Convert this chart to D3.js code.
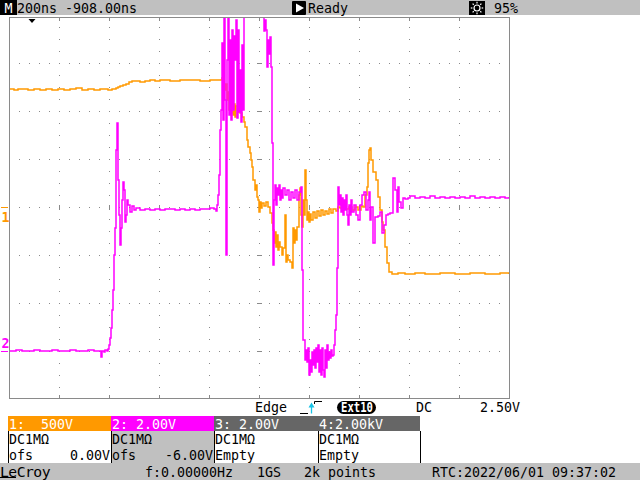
<!DOCTYPE html>
<html><head><meta charset="utf-8">
<script src="https://cdn.jsdelivr.net/npm/d3@7"></script>
<style>
body{margin:0;background:#fff}
svg{display:block}
text{font-family:"DejaVu Sans Mono",monospace;font-size:13.3px;white-space:pre}
</style>
</head><body>
<svg id="c" width="640" height="480"></svg>
<script>
// ---- data (time in ns relative to trigger, volts) ----
const ch1Time = [-88,-72,-56,-32,-16,8,32,56,80,104,128,152,176,200,224,248,272,296,304,320,336,344,352,364,376,388,400,416,432,452,472,492,512,552,592,632,672,712,752,760,768,772,776,780,784,788,792,796,800,804,808,812,816,824,832,840,848,852,860,864,872,876,880,884,892,896,900,904,908,912,916,920,928,936,944,952,960,964,968,972,976,980,984,988,992,1000,1004,1012,1016,1020,1024,1032,1040,1044,1048,1052,1056,1060,1068,1072,1076,1080,1084,1088,1092,1096,1100,1104,1108,1112,1116,1124,1132,1140,1148,1156,1164,1172,1180,1188,1196,1204,1216,1224,1232,1244,1256,1268,1280,1292,1304,1316,1324,1332,1340,1344,1348,1352,1356,1364,1376,1384,1392,1400,1404,1412,1420,1428,1440,1464,1492,1532,1572,1632,1692,1752,1812,1872,1908];
const ch1Volts = [1229,1219,1229,1229,1219,1229,1219,1229,1219,1229,1219,1229,1240,1219,1229,1219,1229,1229,1219,1229,1240,1250,1260,1271,1281,1302,1313,1313,1302,1313,1323,1313,1323,1313,1323,1323,1313,1323,1323,1344,1281,1219,1281,1115,1198,1010,1167,979,1135,958,1073,938,1052,990,979,938,885,833,698,625,563,490,417,281,177,229,104,73,-52,52,-10,42,10,52,0,-63,-167,-240,-375,-260,-417,-292,-448,-365,-417,-500,-427,-83,-573,-500,-552,-573,-635,-219,-375,-240,-344,-208,125,198,-83,-208,73,-83,385,73,-135,-52,-156,-73,-135,-52,-115,-42,-94,-31,-83,-42,-73,-21,-63,-21,-42,0,-10,10,-21,0,-31,0,-31,10,0,125,208,458,594,615,490,365,281,104,-31,-156,-240,-417,-583,-677,-698,-688,-698,-688,-698,-688,-698,-688,-698,-688,-698];

const ch2Time = [-88,-64,-40,-16,8,32,56,80,104,128,152,176,200,224,248,272,276,280,288,292,300,304,308,312,316,320,324,328,332,336,340,344,348,352,356,360,364,368,372,376,380,384,392,400,408,416,432,452,472,492,512,532,552,572,592,612,632,652,672,692,712,728,736,740,744,748,752,756,760,764,768,772,776,780,784,788,792,796,800,804,808,812,816,820,824,828,832,836,840,844,848,856,872,892,912,924,928,932,936,940,944,948,952,956,960,964,968,972,976,980,984,988,992,996,1000,1004,1012,1020,1028,1036,1044,1052,1060,1068,1076,1080,1084,1092,1096,1100,1104,1108,1112,1116,1120,1124,1128,1132,1136,1140,1144,1148,1152,1156,1160,1164,1168,1172,1176,1180,1184,1188,1192,1196,1200,1204,1208,1212,1216,1220,1224,1228,1232,1236,1240,1244,1248,1252,1256,1260,1264,1268,1272,1276,1280,1288,1296,1304,1312,1320,1328,1336,1344,1348,1352,1356,1364,1372,1384,1392,1400,1408,1416,1424,1432,1440,1444,1452,1460,1464,1468,1476,1484,1492,1504,1512,1532,1552,1572,1592,1612,1632,1652,1672,1692,1712,1732,1752,1772,1792,1812,1832,1852,1872,1892,1908];
const ch2Volts = [0,0.04,0,0,0.04,0,0,0.04,0,0,0.04,0,0,0.04,0,0,-0.25,0,-0.04,0.04,0,0.08,0.25,0.54,0.96,1.71,2.54,4.0,5.13,8.38,9.5,7.13,5.67,4.42,5.13,6.29,7.04,6.71,5.38,5.67,6.29,6.08,5.79,6.04,5.88,5.96,5.88,5.92,5.88,5.92,5.88,5.92,5.92,5.88,5.92,5.88,5.92,5.88,5.92,5.92,5.96,5.92,5.83,6.08,6.5,7.33,9.21,10.04,12.83,9.63,14.13,10.46,4.0,12.13,14.21,9.83,12.96,9.63,13.38,10.04,13.13,12.13,13.79,9.71,13.38,9.96,11.71,9.54,12.75,10.04,14.21,14.42,14.42,14.42,14.42,14.21,13.33,13.79,13.38,11.83,12.96,12.38,13.08,11.83,8.67,3.58,6.29,6.92,6.08,6.79,6.5,6.92,6.29,6.71,6.38,6.79,6.5,6.71,6.29,6.63,6.38,6.71,6.29,6.63,6.83,3.38,0.46,-0.38,0.04,-0.46,0.13,-1.0,-0.38,-0.88,-0.04,-0.58,0.04,-0.71,0.13,-0.46,0.25,-0.88,0.04,-1.0,0.13,-0.79,-1.08,0.04,-0.71,0.25,-0.38,-0.04,-0.29,0.04,-0.21,-0.17,0.25,0.88,1.5,3.46,6.83,6.08,6.5,5.79,6.38,5.67,6.29,5.88,6.5,5.67,5.25,6.08,5.67,6.29,5.79,6.08,5.67,5.46,6.08,6.5,6.63,5.88,6.29,6.63,5.46,6.0,4.5,5.58,5.63,5.79,4.92,5.25,5.67,5.71,5.75,5.75,7.21,6.71,5.79,6.83,6.21,5.96,6.38,6.33,6.38,6.46,6.38,6.42,6.38,6.46,6.38,6.42,6.38,6.42,6.38,6.42,6.38,6.46,6.38,6.42,6.38,6.42,6.38,6.42,6.38,6.42];

const timeDomain = [-92, 1908];   // 200 ns/div, 10 div
const ch1Range = [-2000, 2000];   // 500 V/div, ofs 0 V
const ch2Range = [-2, 14];        // 2 V/div, ofs -6 V

const headerTexts = ["200ns -908.00ns", "Ready", "95%"];
const trigTexts = ["Edge", "Ext10", "DC", "2.50V"];
const chHeaders = ["1:  500V", "2: 2.00V", "3: 2.00V", "4:2.00kV"];
const chRow2 = ["DC1M\u03A9", "DC1M\u03A9", "DC1M\u03A9", "DC1M\u03A9"];
const chRow3 = [["ofs","0.00V"], ["ofs","-6.00V"], ["Empty",""], ["Empty",""]];
const footerTexts = ["f:0.00000Hz", "1GS", "2k points", "RTC:2022/06/01 09:37:02"];

// ---- setup ----
const svg = d3.select("#c");
const L = 9, R = 509, T = 15, B = 399;
const x = d3.scaleLinear().domain(timeDomain).range([L, R]);
const y1 = d3.scaleLinear().domain(ch1Range).range([B, T]);
const y2 = d3.scaleLinear().domain(ch2Range).range([B, T]);
const gx = d3.scaleLinear().domain([0, 10]).range([L, R]);
const gy = d3.scaleLinear().domain([-4, 4]).range([B, T]);
const ORANGE = "#ff9900", MAGENTA = "#ff00ff", GRID = "#8a8a8a", BAR = "#c0c0c0";

svg.append("rect").attr("width", 640).attr("height", 480).attr("fill", "#fff");

// header bar
svg.append("rect").attr("x",0).attr("y",0).attr("width",640).attr("height",15).attr("fill",BAR);
svg.append("rect").attr("x",0).attr("y",0).attr("width",17).attr("height",15).attr("fill","#000");
svg.append("text").attr("x",8.5).attr("y",13).attr("text-anchor","middle").attr("fill","#fff").text("M");
svg.append("text").attr("x",17).attr("y",13).text(headerTexts[0]);
svg.append("rect").attr("x",292).attr("y",1).attr("width",14).attr("height",14).attr("rx",1).attr("fill","#000");
svg.append("path").attr("d","M296,3.5L296,12.5L304,8Z").attr("fill","#fff");
svg.append("text").attr("x",308).attr("y",13).text(headerTexts[1]);
svg.append("rect").attr("x",469).attr("y",1).attr("width",16).attr("height",14).attr("fill","#000");
svg.append("circle").attr("cx",477).attr("cy",8).attr("r",3).attr("fill","none").attr("stroke","#fff").attr("stroke-width",1.2);
d3.range(8).forEach(i => {
  const a = i*Math.PI/4;
  svg.append("line").attr("x1",477+Math.cos(a)*4.6).attr("y1",8+Math.sin(a)*4.6)
    .attr("x2",477+Math.cos(a)*6.2).attr("y2",8+Math.sin(a)*6.2).attr("stroke","#fff").attr("stroke-width",1.2);
});
svg.append("text").attr("x",494).attr("y",13).text(headerTexts[2]);

// grid
const grid = svg.append("g").attr("fill", GRID);
const minorY = d3.range(-4, 4.001, 0.25).filter(v => v > -4 && v < 4);
const minorX = d3.range(0, 10.001, 0.2).filter(v => v > 0 && v < 10);
const vdots = [];
d3.range(1, 10).forEach(i => minorY.forEach(j => vdots.push([gx(i), gy(j)])));
d3.range(-3, 4).forEach(j => minorX.forEach(i => vdots.push([gx(i), gy(j)])));
grid.selectAll("rect.d").data(vdots).join("rect").attr("class","d")
  .attr("x", d => Math.round(d[0])).attr("y", d => Math.round(d[1]))
  .attr("width",1).attr("height",1);
// centre-line ticks
grid.selectAll("rect.cx").data(d3.range(1,10)).join("rect").attr("class","cx")
  .attr("x", d => Math.round(gx(d))).attr("y", Math.round(gy(0))-2).attr("width",1).attr("height",5);
grid.selectAll("rect.cy").data(d3.range(-3,4)).join("rect").attr("class","cy")
  .attr("x", Math.round(gx(5))-2).attr("y", d => Math.round(gy(d))).attr("width",5).attr("height",1);

// borders
const bd = svg.append("g").attr("stroke", GRID).attr("stroke-width",1).attr("shape-rendering","crispEdges");
bd.append("line").attr("x1",L).attr("x2",R+0.5).attr("y1",17.5).attr("y2",17.5);
bd.append("line").attr("x1",L).attr("x2",R+0.5).attr("y1",398.5).attr("y2",398.5);
bd.append("line").attr("x1",L+0.5).attr("x2",L+0.5).attr("y1",17).attr("y2",399);
bd.append("line").attr("x1",R+0.5).attr("x2",R+0.5).attr("y1",17).attr("y2",399);
bd.selectAll("line.tt").data(d3.range(1,11)).join("line").attr("class","tt")
  .attr("x1", d => Math.round(gx(d))+0.5).attr("x2", d => Math.round(gx(d))+0.5).attr("y1",18).attr("y2",21);
bd.selectAll("line.tb").data(d3.range(1,11)).join("line").attr("class","tb")
  .attr("x1", d => Math.round(gx(d))+0.5).attr("x2", d => Math.round(gx(d))+0.5).attr("y1",395).attr("y2",398);

// trigger position marker
svg.append("path").attr("d", `M${x(0)-3.5},19L${x(0)+3.5},19L${x(0)},23Z`).attr("fill","#000");

// channel ground markers
svg.append("rect").attr("x",1).attr("y",Math.round(y1(0))).attr("width",7).attr("height",1).attr("fill",ORANGE);
svg.append("text").attr("x",1.5).attr("y",y1(0)+15).attr("fill",ORANGE).attr("font-weight","bold").text("1");
svg.append("rect").attr("x",1).attr("y",Math.round(y2(0))).attr("width",7).attr("height",1).attr("fill",MAGENTA);
svg.append("text").attr("x",1.5).attr("y",y2(0)-3).attr("fill",MAGENTA).attr("font-weight","bold").text("2");

// traces
svg.append("clipPath").attr("id","pc").append("rect").attr("x",L+1).attr("y",18).attr("width",R-L-1).attr("height",380);
const tr = svg.append("g").attr("clip-path","url(#pc)").attr("fill","none").attr("stroke-width",1.5).attr("stroke-linejoin","miter");
const line1 = d3.line().x((d,i)=>x(ch1Time[i])).y((d,i)=>y1(ch1Volts[i])).curve(d3.curveStepAfter);
const line2 = d3.line().x((d,i)=>x(ch2Time[i])).y((d,i)=>y2(ch2Volts[i])).curve(d3.curveStepAfter);
tr.append("path").attr("d", line1(ch1Time)).attr("stroke", ORANGE);
tr.append("path").attr("d", line2(ch2Time)).attr("stroke", MAGENTA);

// trigger info row
svg.append("text").attr("x",255).attr("y",412).text(trigTexts[0]);
svg.append("path").attr("d","M300,413.5H308").attr("stroke","#000").attr("fill","none");
svg.append("path").attr("d","M314.5,404V401.5H322").attr("stroke","#000").attr("fill","none");
svg.append("line").attr("x1",311.5).attr("x2",311.5).attr("y1",413.5).attr("y2",405).attr("stroke","#19c3e6").attr("stroke-width",1.3);
svg.append("path").attr("d","M308.5,407.5L314.5,407.5L311.5,402.5Z").attr("fill","#19c3e6");
svg.append("rect").attr("x",337).attr("y",401).attr("width",39).attr("height",13).attr("rx",6.5).attr("fill","#000");
svg.append("text").attr("x",341).attr("y",412).attr("fill","#fff").attr("font-weight","bold").attr("font-size","12px")
  .attr("textLength",32).attr("lengthAdjust","spacingAndGlyphs").text(trigTexts[1]);
svg.append("text").attr("x",416).attr("y",412).text(trigTexts[2]);
svg.append("text").attr("x",480).attr("y",412).text(trigTexts[3]);

// channel boxes
const boxX = [8, 111, 214, 318, 420];
const headFill = [ORANGE, MAGENTA, "#666666", "#666666"];
const bodyFill = ["#ffffff", "#c0c0c0", "#ffffff", "#ffffff"];
chHeaders.forEach((h, i) => {
  const x0 = boxX[i], w = boxX[i+1] - boxX[i];
  svg.append("rect").attr("x",x0).attr("y",416).attr("width",w).attr("height",15).attr("fill",headFill[i]);
  svg.append("rect").attr("x",x0).attr("y",431).attr("width",w).attr("height",32).attr("fill",bodyFill[i]);
  svg.append("text").attr("x",x0+1).attr("y",429).attr("fill","#fff").attr("xml:space","preserve").text(h);
  svg.append("text").attr("x",x0+1).attr("y",444).attr("fill","#000").text(chRow2[i]);
  svg.append("text").attr("x",x0+1).attr("y",460).attr("fill","#000").text(chRow3[i][0]);
  if (chRow3[i][1]) svg.append("text").attr("x",boxX[i+1]-1).attr("y",460).attr("text-anchor","end").attr("fill","#000").text(chRow3[i][1]);
});
const bx = svg.append("g").attr("stroke","#000").attr("stroke-width",1).attr("shape-rendering","crispEdges");
boxX.forEach(v => bx.append("line").attr("x1",v+0.5).attr("x2",v+0.5).attr("y1",431).attr("y2",463));

// footer bar
svg.append("rect").attr("x",0).attr("y",463).attr("width",640).attr("height",17).attr("fill",BAR);
svg.append("text").attr("x",0).attr("y",477).attr("font-family","Liberation Sans, Arial, sans-serif").attr("font-size","17px")
  .attr("textLength",50).attr("lengthAdjust","spacingAndGlyphs").attr("letter-spacing","-0.5").text("LeCroy");
svg.append("rect").attr("x",0).attr("y",477).attr("width",16).attr("height",1).attr("fill","#000");
const fx = [145, 257, 304, 432];
footerTexts.forEach((t, i) => svg.append("text").attr("x",fx[i]).attr("y",477).text(t));
</script>
</body></html>
